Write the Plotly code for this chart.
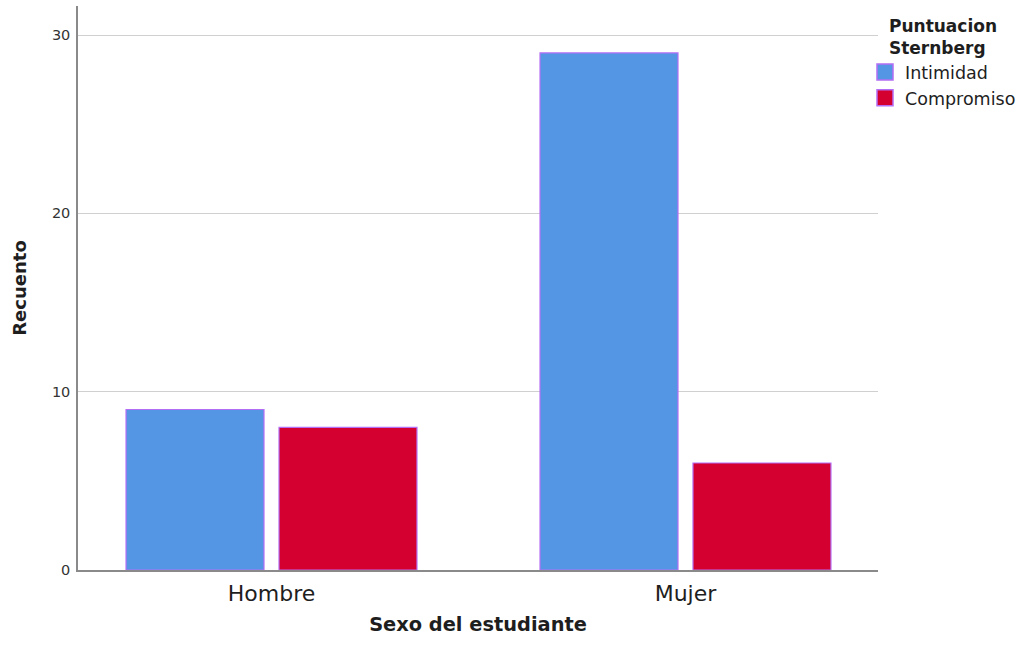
import plotly.graph_objects as go

categories = ["Hombre", "Mujer"]
intimidad = [9, 29]
compromiso = [8, 6]
series_names = ["Intimidad", "Compromiso"]
colors = ["#5596e4", "#d4002f"]
y_ticks = [0, 10, 20, 30]

FONT = "DejaVu Sans"
line_col = "#b46ef5"
txt = "#1e1e1e"

fig = go.Figure()
for name, vals, col in zip(series_names, [intimidad, compromiso], colors):
    fig.add_trace(go.Bar(x=categories, y=vals, name=name, showlegend=False,
                         marker=dict(color=col, line=dict(color=line_col, width=1.2))))
# legend swatches (square markers, no data drawn)
for name, col in zip(series_names, colors):
    fig.add_trace(go.Scatter(x=[None], y=[None], mode="markers", name=name,
                             marker=dict(symbol="square", size=16, color=col,
                                         line=dict(color=line_col, width=1.5))))

fig.update_layout(
    width=1021, height=646,
    margin=dict(l=78, r=143, t=6, b=76, autoexpand=False),
    plot_bgcolor="white", paper_bgcolor="white",
    barmode="group", bargap=0.261, bargroupgap=0.098,
    font=dict(family=FONT, color=txt),
    legend=dict(
        x=0.98375, y=0.993, xanchor="left", yanchor="top",
        title=dict(text="<b>Puntuacion<br>Sternberg</b>", side="top center",
                   font=dict(size=17, family=FONT, color=txt)),
        font=dict(size=17.5, family=FONT, color=txt),
        itemwidth=30, tracegroupgap=0,
        bgcolor="rgba(0,0,0,0)",
    ),
    xaxis=dict(
        type="category", range=[-0.4674, 1.4650], automargin=False,
        showline=True, linecolor="#8a8a8a", linewidth=1.5,
        ticks="", tickfont=dict(size=22, family=FONT, color=txt), ticklabelstandoff=3,
        title=dict(text="<b>Sexo del estudiante</b>", font=dict(size=19.4, family=FONT, color=txt), standoff=12),
        showgrid=False, zeroline=False,
    ),
    yaxis=dict(
        range=[0, 31.63], tickvals=y_ticks, automargin=False,
        showline=True, linecolor="#8a8a8a", linewidth=1.5,
        showgrid=True, gridcolor="#d0d0d0", gridwidth=1.2,
        ticks="", ticklen=0, zeroline=False, ticklabelstandoff=3,
        tickfont=dict(size=14.5, family=FONT, color="#333333"),
        title=dict(text="<b>Recuento</b>", font=dict(size=18, family=FONT, color=txt), standoff=21),
    ),
)

fig.write_html("out.html", config={"displayModeBar": False},
               post_script="document.body.style.margin='0';")
